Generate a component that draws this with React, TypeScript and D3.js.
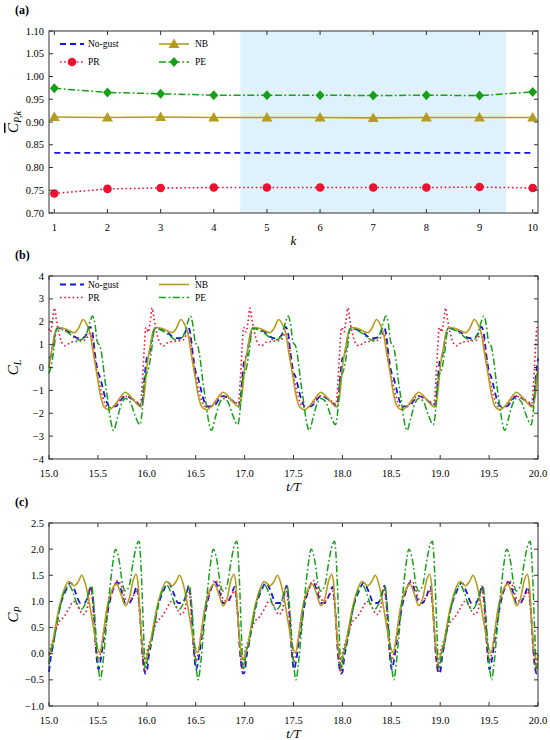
import React, { useEffect } from 'react';
import * as d3 from 'd3';

// (a) cycle-averaged power coefficient per cycle k
const kValues = [1, 2, 3, 4, 5, 6, 7, 8, 9, 10];
const meanNoGust = [0.832, 0.832, 0.832, 0.832, 0.832, 0.832, 0.832, 0.832, 0.832, 0.832];
const meanPR = [0.743, 0.753, 0.755, 0.756, 0.756, 0.756, 0.756, 0.756, 0.757, 0.755];
const meanNB = [0.911, 0.91, 0.911, 0.91, 0.91, 0.91, 0.909, 0.91, 0.91, 0.91];
const meanPE = [0.974, 0.965, 0.962, 0.959, 0.959, 0.959, 0.958, 0.959, 0.958, 0.966];
const gustWindow = [4.5, 9.5];
const yTicksA = [0.7, 0.75, 0.8, 0.85, 0.9, 0.95, 1.0, 1.05, 1.1];

// (b), (c): every period looks the same, so one period of [phase, value] is kept per series
const cycleStarts = [15, 16, 17, 18, 19];
const tEnd = 20;
const tTicks = [15, 15.5, 16, 16.5, 17, 17.5, 18, 18.5, 19, 19.5, 20];
const yTicksB = [-4, -3, -2, -1, 0, 1, 2, 3, 4];
const yTicksC = [-1, -0.5, 0, 0.5, 1, 1.5, 2, 2.5];

const clNoGust: [number, number][] = [
  [0, 0.4], [0.02, 0.5], [0.045, 1.1], [0.07, 1.6], [0.095, 1.73], [0.15, 1.65], [0.2, 1.57],
  [0.26, 1.35], [0.3, 1.28], [0.35, 1.3], [0.39, 1.5], [0.42, 1.78], [0.445, 1.5], [0.47, 0.6],
  [0.5, -0.2], [0.52, -0.4], [0.55, -0.9], [0.58, -1.4], [0.62, -1.7], [0.68, -1.7],
  [0.73, -1.45], [0.78, -1.25], [0.84, -1.35], [0.9, -1.55], [0.94, -1.7], [0.96, -1.3],
  [0.98, -0.3],
];
const clPR: [number, number][] = [
  [0, 1.7], [0.015, 1.55], [0.035, 2.0], [0.055, 2.6], [0.075, 2.1], [0.1, 1.55], [0.13, 1.1],
  [0.17, 0.95], [0.22, 1.1], [0.3, 1.15], [0.37, 1.2], [0.42, 1.5], [0.45, 1.1], [0.48, 0.1],
  [0.51, -0.6], [0.55, -1.3], [0.59, -1.7], [0.64, -1.75], [0.7, -1.55], [0.77, -1.25],
  [0.84, -1.35], [0.9, -1.5], [0.935, -1.6], [0.955, -0.6], [0.975, 0.9], [0.99, 1.75],
];
const clNB: [number, number][] = [
  [0, 0.0], [0.03, 0.8], [0.06, 1.5], [0.09, 1.75], [0.15, 1.72], [0.2, 1.62], [0.26, 1.52],
  [0.3, 1.7], [0.35, 2.1], [0.39, 1.85], [0.42, 1.5], [0.45, 0.7], [0.49, -0.3], [0.525, -1.2],
  [0.56, -1.7], [0.61, -1.85], [0.68, -1.6], [0.73, -1.3], [0.78, -1.08], [0.83, -1.25],
  [0.88, -1.5], [0.94, -1.72], [0.97, -1.3], [0.99, -0.5],
];
const clPE: [number, number][] = [
  [0, -0.25], [0.02, 0.0], [0.05, 0.8], [0.08, 1.72], [0.14, 1.65], [0.2, 1.5], [0.26, 1.3],
  [0.3, 1.2], [0.35, 1.25], [0.39, 1.55], [0.42, 2.0], [0.445, 2.25], [0.47, 1.9], [0.495, 1.1],
  [0.52, 0.95], [0.545, 0.4], [0.57, -0.5], [0.6, -1.4], [0.63, -2.3], [0.66, -2.75],
  [0.7, -2.2], [0.74, -1.6], [0.78, -1.35], [0.83, -1.5], [0.88, -2.1], [0.93, -2.5],
  [0.955, -1.8], [0.975, -0.6], [0.99, -0.3],
];

const cpNoGust: [number, number][] = [
  [0, -0.35], [0.02, -0.05], [0.04, 0.15], [0.07, 0.5], [0.12, 0.95], [0.17, 1.2], [0.22, 1.36],
  [0.27, 1.18], [0.32, 0.97], [0.36, 0.97], [0.4, 1.1], [0.43, 1.3], [0.455, 0.9], [0.48, 0.1],
  [0.505, -0.3], [0.525, -0.15], [0.56, 0.3], [0.6, 0.8], [0.65, 1.2], [0.7, 1.37], [0.74, 1.2],
  [0.78, 0.97], [0.82, 0.97], [0.86, 1.1], [0.9, 1.28], [0.925, 0.9], [0.955, 0.0], [0.985, -0.38],
];
const cpPR: [number, number][] = [
  [0, 0.0], [0.02, 0.15], [0.05, 0.32], [0.1, 0.6], [0.15, 0.7], [0.2, 0.85], [0.25, 1.0],
  [0.28, 0.98], [0.32, 0.82], [0.35, 0.75], [0.39, 0.85], [0.42, 1.25], [0.445, 1.0],
  [0.47, 0.3], [0.5, -0.15], [0.53, 0.05], [0.56, 0.45], [0.6, 0.9], [0.65, 1.2], [0.7, 1.4],
  [0.74, 1.3], [0.78, 1.05], [0.82, 1.0], [0.86, 1.1], [0.9, 1.2], [0.93, 0.7], [0.96, -0.1],
  [0.985, -0.35],
];
const cpNB: [number, number][] = [
  [0, -0.05], [0.03, 0.15], [0.06, 0.45], [0.1, 0.85], [0.15, 1.2], [0.2, 1.38], [0.26, 1.3],
  [0.3, 1.38], [0.335, 1.5], [0.37, 1.35], [0.41, 1.0], [0.45, 0.55], [0.49, 0.15], [0.52, 0.02],
  [0.55, 0.3], [0.59, 0.85], [0.64, 1.2], [0.69, 1.33], [0.735, 1.15], [0.78, 0.92], [0.82, 1.05],
  [0.86, 1.4], [0.89, 1.52], [0.91, 1.35], [0.935, 0.6], [0.965, 0.0], [0.985, -0.12],
];
const cpPE: [number, number][] = [
  [0, -0.2], [0.02, 0.08], [0.04, 0.15], [0.07, 0.45], [0.12, 0.95], [0.16, 1.2], [0.205, 1.31],
  [0.25, 1.15], [0.29, 0.92], [0.33, 0.85], [0.37, 0.95], [0.41, 1.2], [0.435, 1.3], [0.46, 0.9],
  [0.49, 0.1], [0.51, -0.35], [0.525, -0.5], [0.55, -0.2], [0.58, 0.4], [0.62, 1.2], [0.65, 1.7],
  [0.68, 2.0], [0.72, 1.75], [0.75, 1.35], [0.78, 1.2], [0.82, 1.3], [0.86, 1.75], [0.9, 2.1],
  [0.92, 2.15], [0.945, 1.5], [0.965, 0.5], [0.985, -0.3],
];

const FONT = '"Liberation Serif", "DejaVu Serif", serif';
const LEFT = 49;
const RIGHT = 538;

type Style = { color: string; dash?: string; width: number };
const STY: Record<string, Style> = {
  'No-gust': { color: '#1616d8', dash: '6,4', width: 1.8 },
  PR: { color: '#ea1430', dash: '1.6,2.6', width: 1.6 },
  NB: { color: '#b59c1e', width: 1.6 },
  PE: { color: '#17a017', dash: '7,2.5,1.8,2.5', width: 1.5 },
};

const tile = (cycle: [number, number][]) => {
  const pts: [number, number][] = [];
  cycleStarts.forEach(t0 => cycle.forEach(([p, v]) => pts.push([t0 + p, v])));
  pts.push([tEnd, cycle[0][1]]);
  return pts;
};

const Marker = ({ kind, x, y, color }: { kind: string; x: number; y: number; color: string }) => {
  if (kind === 'circle') return <circle cx={x} cy={y} r={4.3} fill={color} />;
  if (kind === 'triangle')
    return <path d={`M${x},${y - 5.5}L${x + 5.5},${y + 4}L${x - 5.5},${y + 4}Z`} fill={color} />;
  if (kind === 'diamond')
    return <path d={`M${x},${y - 5}L${x + 4.5},${y}L${x},${y + 5}L${x - 4.5},${y}Z`} fill={color} />;
  return null;
};

const Legend = ({ x, y, name, marker }: { x: number; y: number; name: string; marker?: string }) => {
  const s = STY[name];
  const len = name === 'No-gust' || name === 'PR' ? 24 : 30;
  return (
    <g>
      <line x1={x} x2={x + len} y1={y} y2={y} stroke={s.color} strokeWidth={s.width}
        strokeDasharray={s.dash} />
      {marker && <Marker kind={marker} x={x + len / 2} y={y} color={s.color} />}
      <text x={x + len + (len === 24 ? 4 : 6)} y={y} dominantBaseline="central" fontSize={9.5}>{name}</text>
    </g>
  );
};

const Frame = ({ x, y, xt, yt, fx, fy }: {
  x: d3.ScaleLinear<number, number>; y: d3.ScaleLinear<number, number>;
  xt: number[]; yt: number[]; fx: (v: number) => string; fy: (v: number) => string;
}) => {
  const [top, bottom] = [y.range()[1], y.range()[0]];
  const tl = 4;
  return (
    <g>
      <rect x={LEFT} y={top} width={RIGHT - LEFT} height={bottom - top} fill="none" stroke="#333" strokeWidth={1} />
      {xt.map(v => (
        <g key={'x' + v}>
          <line x1={x(v)} x2={x(v)} y1={bottom} y2={bottom - tl} stroke="#333" />
          <line x1={x(v)} x2={x(v)} y1={top} y2={top + tl} stroke="#333" />
          <text x={x(v)} y={bottom + 14} textAnchor="middle" dominantBaseline="central" fontSize={10.5}>{fx(v)}</text>
        </g>
      ))}
      {yt.map(v => (
        <g key={'y' + v}>
          <line x1={LEFT} x2={LEFT + tl} y1={y(v)} y2={y(v)} stroke="#333" />
          <line x1={RIGHT} x2={RIGHT - tl} y1={y(v)} y2={y(v)} stroke="#333" />
          <text x={44} y={y(v)} textAnchor="end" dominantBaseline="central" fontSize={10.5}>{fy(v)}</text>
        </g>
      ))}
    </g>
  );
};

const YLabel = ({ y, sub, bar }: { y: number; sub: string; bar?: boolean }) => (
  <text transform={`translate(18,${y}) rotate(-90)`} textAnchor="middle" fontSize={15} fontStyle="italic">
    <tspan style={bar ? { textDecoration: 'overline' } : undefined}>C</tspan>
    <tspan fontSize={10} dy={3}>{sub}</tspan>
  </text>
);

const TimePanel = ({ top, bottom, yDomain, yTicks, fy, data, label, ylab, legend }: {
  top: number; bottom: number; yDomain: [number, number]; yTicks: number[];
  fy: (v: number) => string; data: { name: string; cycle: [number, number][] }[];
  label: string; ylab: string; legend?: boolean;
}) => {
  const x = d3.scaleLinear().domain([15, tEnd]).range([LEFT, RIGHT]);
  const y = d3.scaleLinear().domain(yDomain).range([bottom, top]);
  const line = d3.line<[number, number]>().x(d => x(d[0])).y(d => y(d[1])).curve(d3.curveMonotoneX);
  return (
    <g>
      <text x={15} y={top - 21} dominantBaseline="central" fontSize={12} fontWeight="bold">{label}</text>
      {data.map(s => (
        <path key={s.name} d={line(tile(s.cycle)) || ''} fill="none" stroke={STY[s.name].color}
          strokeWidth={STY[s.name].width} strokeDasharray={STY[s.name].dash} />
      ))}
      {legend && (
        <g>
          <Legend x={60} y={top + 8.5} name="No-gust" />
          <Legend x={60} y={top + 21.5} name="PR" />
          <Legend x={159} y={top + 8.5} name="NB" />
          <Legend x={159} y={top + 21.5} name="PE" />
        </g>
      )}
      <Frame x={x} y={y} xt={tTicks} yt={yTicks} fx={d3.format('.1f')} fy={fy} />
      <YLabel y={(top + bottom) / 2} sub={ylab} />
      <text x={(LEFT + RIGHT) / 2} y={bottom + 27} textAnchor="middle" dominantBaseline="central"
        fontSize={13} fontStyle="italic">t/T</text>
    </g>
  );
};

const PanelA = () => {
  const top = 31;
  const bottom = 213;
  const x = d3.scaleLinear().domain([0.9, 10.1]).range([LEFT, RIGHT]);
  const y = d3.scaleLinear().domain([0.7, 1.1]).range([bottom, top]);
  const line = d3.line<number>().x((_, i) => x(kValues[i])).y(d => y(d));
  const series = [
    { name: 'No-gust', vals: meanNoGust, marker: '' },
    { name: 'PR', vals: meanPR, marker: 'circle' },
    { name: 'NB', vals: meanNB, marker: 'triangle' },
    { name: 'PE', vals: meanPE, marker: 'diamond' },
  ];
  return (
    <g>
      <text x={15} y={10} dominantBaseline="central" fontSize={12} fontWeight="bold">(a)</text>
      <rect x={x(gustWindow[0])} y={top} width={x(gustWindow[1]) - x(gustWindow[0])} height={bottom - top}
        fill="#dff2fc" />
      {series.map(s => (
        <g key={s.name}>
          <path d={line(s.vals) || ''} fill="none" stroke={STY[s.name].color}
            strokeWidth={STY[s.name].width} strokeDasharray={STY[s.name].dash} />
          {s.marker && s.vals.map((v, i) => (
            <Marker key={i} kind={s.marker} x={x(kValues[i])} y={y(v)} color={STY[s.name].color} />
          ))}
        </g>
      ))}
      <Legend x={60} y={44} name="No-gust" />
      <Legend x={60} y={62} name="PR" marker="circle" />
      <Legend x={159} y={44} name="NB" marker="triangle" />
      <Legend x={159} y={62} name="PE" marker="diamond" />
      <Frame x={x} y={y} xt={kValues} yt={yTicksA} fx={d3.format('d')} fy={d3.format('.2f')} />
      <YLabel y={(top + bottom) / 2} sub="P,k" bar />
      <text x={(LEFT + RIGHT) / 2} y={bottom + 27} textAnchor="middle" dominantBaseline="central"
        fontSize={13} fontStyle="italic">k</text>
    </g>
  );
};

export default function App() {
  useEffect(() => {
    document.body.style.margin = '0';
  }, []);
  return (
    <svg width={550} height={740} style={{ display: 'block', background: '#fff' }} fontFamily={FONT}>
      <PanelA />
      <TimePanel top={276} bottom={459} yDomain={[-4, 4]} yTicks={yTicksB} fy={d3.format('d')}
        label="(b)" ylab="L" legend
        data={[
          { name: 'No-gust', cycle: clNoGust },
          { name: 'PR', cycle: clPR },
          { name: 'NB', cycle: clNB },
          { name: 'PE', cycle: clPE },
        ]} />
      <TimePanel top={523} bottom={706} yDomain={[-1, 2.5]} yTicks={yTicksC} fy={d3.format('.1f')}
        label="(c)" ylab="P"
        data={[
          { name: 'No-gust', cycle: cpNoGust },
          { name: 'PR', cycle: cpPR },
          { name: 'NB', cycle: cpNB },
          { name: 'PE', cycle: cpPE },
        ]} />
    </svg>
  );
}
